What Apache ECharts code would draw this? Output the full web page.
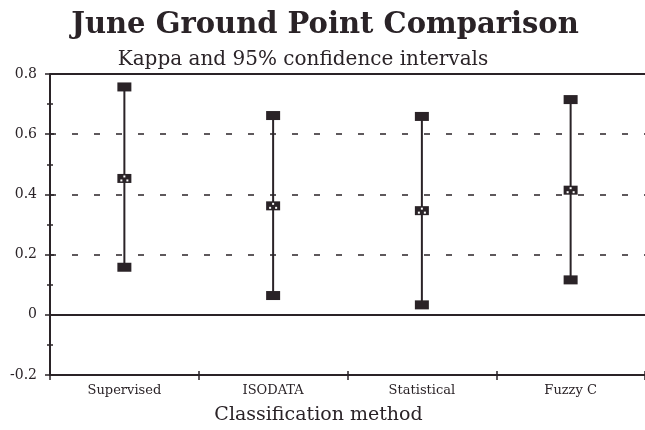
<!DOCTYPE html>
<html>
<head>
<meta charset="utf-8">
<script src="https://cdn.jsdelivr.net/npm/echarts@6/dist/echarts.min.js"></script>
<style>
  html, body { margin: 0; padding: 0; background: #ffffff; }
  #chart { width: 645px; height: 430px; }
</style>
</head>
<body>
<div id="chart"></div>
<script>
// Classification methods and their kappa estimates with 95% confidence bounds
const methods = ['Supervised', 'ISODATA', 'Statistical', 'Fuzzy C'];
const kappa = [0.453, 0.362, 0.346, 0.414];
const lowerBound = [0.158, 0.064, 0.033, 0.116];
const upperBound = [0.757, 0.662, 0.659, 0.715];
const yTicks = [-0.2, 0, 0.2, 0.4, 0.6, 0.8];

const ink = '#2a2327';
const serif = '"DejaVu Serif", "Liberation Serif", serif';

const chart = echarts.init(document.getElementById('chart'));

const intervalData = methods.map((m, i) => [i, lowerBound[i], kappa[i], upperBound[i]]);

function renderInterval(params, api) {
  const idx = api.value(0);
  const lo = api.coord([idx, api.value(1)]);
  const mid = api.coord([idx, api.value(2)]);
  const hi = api.coord([idx, api.value(3)]);
  const w = 14, h = 9;
  const children = [
    { type: 'line', shape: { x1: hi[0], y1: hi[1], x2: lo[0], y2: lo[1] },
      style: { stroke: ink, lineWidth: 2 } },
    { type: 'rect', shape: { x: hi[0] - w / 2, y: hi[1] - h / 2, width: w, height: h },
      style: { fill: ink } },
    { type: 'rect', shape: { x: lo[0] - w / 2, y: lo[1] - h / 2, width: w, height: h },
      style: { fill: ink } },
    { type: 'rect', shape: { x: mid[0] - w / 2, y: mid[1] - h / 2, width: w, height: h },
      style: { fill: ink } },
    // speckled centre marker
    { type: 'rect', shape: { x: mid[0] - 1, y: mid[1] - 3, width: 2, height: 2 }, style: { fill: '#ffffff' } },
    { type: 'rect', shape: { x: mid[0] - 4, y: mid[1] + 1, width: 2, height: 2 }, style: { fill: '#ffffff' } },
    { type: 'rect', shape: { x: mid[0] + 2, y: mid[1] + 1, width: 2, height: 2 }, style: { fill: '#ffffff' } }
  ];
  return { type: 'group', children };
}

const yAxisBase = {
  type: 'value',
  min: yTicks[0],
  max: yTicks[yTicks.length - 1],
  interval: 0.2,
  splitLine: { show: false }
};

chart.setOption({
  backgroundColor: '#ffffff',
  animation: false,
  title: [
    {
      text: 'June Ground Point Comparison',
      left: 320, top: 6, textAlign: 'center',
      textStyle: { fontFamily: serif, fontWeight: 'bold', fontSize: 29, color: ink }
    },
    {
      text: 'Kappa and 95% confidence intervals',
      left: 298, top: 45, textAlign: 'center',
      textStyle: { fontFamily: serif, fontWeight: 'normal', fontSize: 20, color: ink }
    }
  ],
  grid: { left: 50, top: 74, right: -5, bottom: 49, containLabel: false },
  xAxis: [
    {
      type: 'category',
      data: methods,
      boundaryGap: true,
      axisLine: { onZero: false, lineStyle: { color: ink, width: 2 } },
      axisTick: { show: true, length: 5, lineStyle: { color: ink, width: 1.5 } },
      axisLabel: { fontFamily: serif, fontSize: 13, color: ink, margin: 9 },
      name: 'Classification method',
      nameLocation: 'middle',
      nameGap: 31,
      nameTextStyle: { fontFamily: serif, fontSize: 19, color: ink, padding: [0, 58, 0, 0] }
    },
    {
      type: 'category',
      data: methods,
      position: 'bottom',
      boundaryGap: true,
      axisLine: { show: false, onZero: false },
      axisTick: { show: true, inside: true, length: 4, lineStyle: { color: ink, width: 1.5 } },
      axisLabel: { show: false }
    }
  ],
  yAxis: [
    Object.assign({}, yAxisBase, {
      axisLine: { show: true, lineStyle: { color: ink, width: 2 } },
      axisTick: { show: true, length: 5, lineStyle: { color: ink, width: 1.5 } },
      minorTick: { show: true, splitNumber: 2, length: 3, lineStyle: { color: ink, width: 1.5 } },
      axisLabel: {
        fontFamily: serif, fontSize: 14, color: ink, margin: 13,
        formatter: v => (Math.abs(v) < 1e-9 ? '0' : String(+v.toFixed(1)))
      }
    }),
    Object.assign({}, yAxisBase, {
      position: 'left',
      axisLine: { show: false },
      axisTick: { show: true, inside: true, length: 4, lineStyle: { color: ink, width: 1.5 } },
      minorTick: { show: true, splitNumber: 2, length: 3, lineStyle: { color: ink, width: 1.5 } },
      axisLabel: { show: false }
    })
  ],
  series: [
    {
      type: 'custom',
      renderItem: renderInterval,
      data: intervalData,
      encode: { x: 0, y: [1, 2, 3] },
      z: 5,
      markLine: {
        silent: true,
        symbol: 'none',
        label: { show: false },
        data: [
          { yAxis: 0.2, lineStyle: { type: [6, 16], color: ink, width: 1.5 } },
          { yAxis: 0.4, lineStyle: { type: [6, 16], color: ink, width: 1.5 } },
          { yAxis: 0.6, lineStyle: { type: [6, 16], color: ink, width: 1.5 } },
          { yAxis: 0, lineStyle: { type: 'solid', color: ink, width: 2 } },
          { yAxis: 0.8, lineStyle: { type: 'solid', color: ink, width: 2 } }
        ]
      }
    }
  ]
});
</script>
</body>
</html>
